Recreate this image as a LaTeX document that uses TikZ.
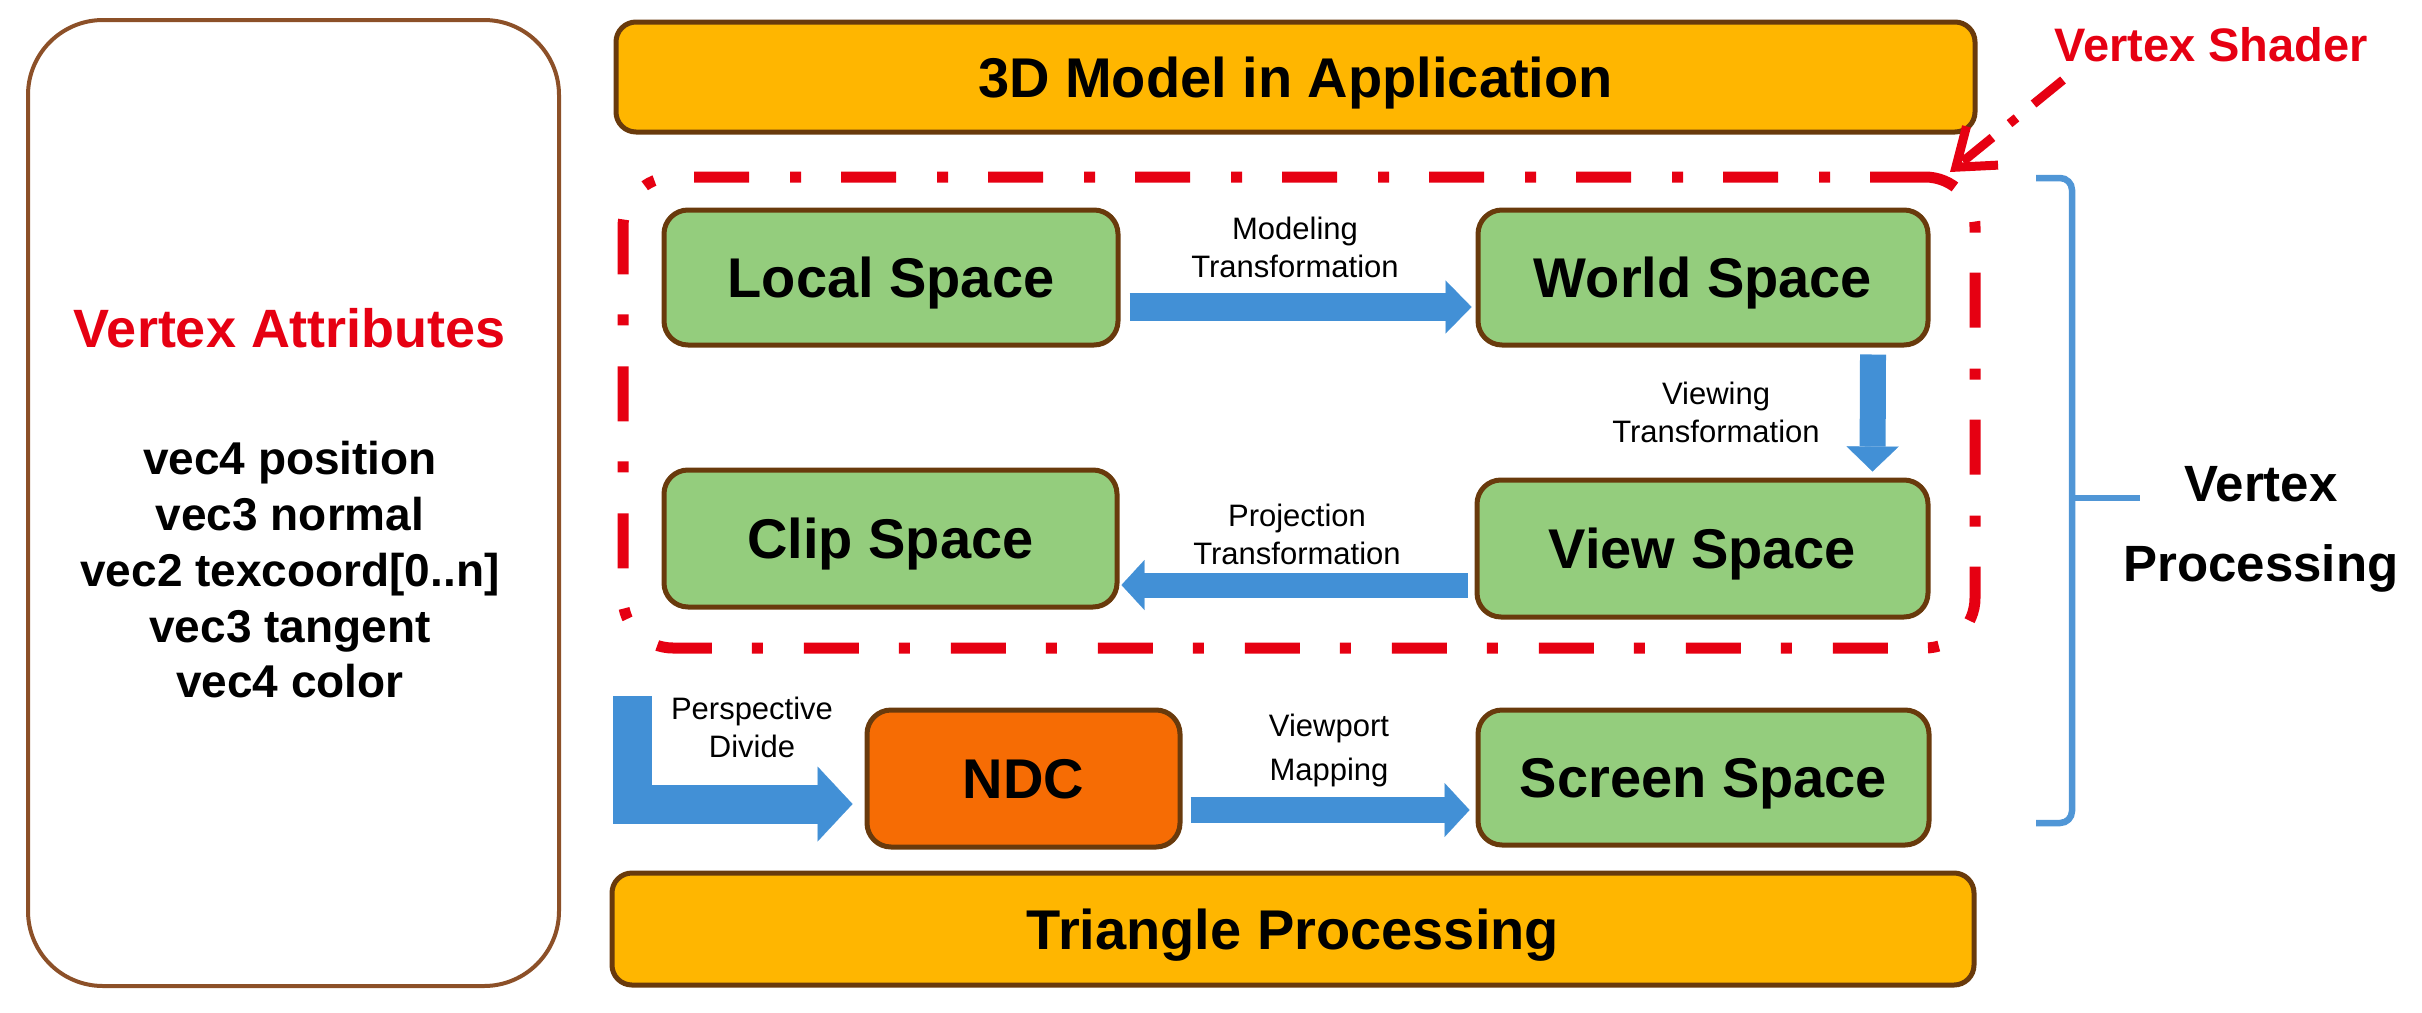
\documentclass[tikz,border=0pt]{standalone}
\usepackage{fontspec}
\setmainfont{Liberation Sans}
\usetikzlibrary{arrows.meta,calc}
\definecolor{boxorange}{RGB}{255,182,0}
\definecolor{boxgreen}{RGB}{148,205,125}
\definecolor{ndcorange}{RGB}{246,108,4}
\definecolor{edgebrown}{RGB}{105,58,12}
\definecolor{attrbrown}{RGB}{140,80,40}
\definecolor{arrowblue}{RGB}{66,144,214}
\definecolor{bracecol}{RGB}{80,150,214}
\definecolor{shaderred}{RGB}{230,0,18}
\begin{document}
\begin{tikzpicture}[x=1pt,y=-1pt,
  stage/.style={draw=edgebrown, line width=5pt, rounded corners=24pt, inner sep=0pt,
    font=\fontsize{56}{60}\selectfont\bfseries, text height=40pt, text depth=0pt},
  greenbox/.style={stage, fill=boxgreen},
  orangebar/.style={stage, fill=boxorange, rounded corners=20pt},
  ndcbox/.style={stage, fill=ndcorange},
  small/.style={font=\fontsize{31}{38}\selectfont, align=center, inner sep=0pt},
  fatarrow/.style={draw=arrowblue, line width=#1},
  redtitle/.style={text=shaderred, inner sep=0pt, font=\fontsize{47}{50}\selectfont\bfseries}
]
\useasboundingbox (0,0) rectangle (2422,1012);

% left attribute panel
\node[draw=attrbrown, line width=4pt, rounded corners=75pt, minimum width=531pt, minimum height=966pt, inner sep=0pt] (attr) at (293.5,503) {};
\node[text=shaderred, inner sep=0pt, font=\fontsize{54}{56}\selectfont\bfseries] (attrtitle) at (290,328) {Vertex Attributes};
\node[inner sep=0pt, align=center, font=\fontsize{46}{55.75}\selectfont\bfseries] (attrlist) at (290,570)
  {vec4 position\\vec3 normal\\vec2 texcoord[0..n]\\vec3 tangent\\vec4 color};

% bars
\node[orangebar, minimum width=1359pt, minimum height=110pt] (app) at (1295.5,77) {3D Model in Application};
\node[orangebar, minimum width=1362pt, minimum height=112pt] (tri) at (1293,929) {Triangle Processing};

% vertex shader region
\node[draw=shaderred, line width=11pt, dash pattern=on 55pt off 40pt on 11pt off 41pt,
  rounded corners=50pt, minimum width=1352pt, minimum height=471pt, inner sep=0pt] (shader) at (1299,412.5) {};

% stages
\node[greenbox, minimum width=454pt, minimum height=135pt] (local) at (891,277.5) {Local Space};
\node[greenbox, minimum width=450pt, minimum height=135pt] (world) at (1703,277.5) {World Space};
\node[greenbox, minimum width=453pt, minimum height=137pt] (clip) at (890.5,538.5) {Clip Space};
\node[greenbox, minimum width=451pt, minimum height=137pt] (view) at (1702.5,548.5) {View Space};
\node[ndcbox, minimum width=313pt, minimum height=137pt] (ndc) at (1023.5,778.5) {NDC};
\node[greenbox, minimum width=451pt, minimum height=135pt] (screen) at (1703.5,777.5) {Screen Space};

% transformation arrows
\draw[fatarrow=28pt, -{Triangle[length=26pt,width=53pt,line width=0.1pt]}]
  ([shift={(9,29.5)}]local.east) -- ([shift={(-4,29.5)}]world.west);
\draw[fatarrow=26pt, -{Triangle[length=25pt,width=52pt,line width=0.1pt]}]
  ([shift={(170,7)}]world.south) -- ([shift={(170,-6)}]view.north);
\draw[fatarrow=25pt, -{Triangle[length=23pt,width=50pt,line width=0.1pt]}]
  ([shift={(-7,36.5)}]view.west) -- ([shift={(2,46.5)}]clip.east);
\coordinate (pdstart) at (632,696);
\draw[fatarrow=39pt, line join=miter, -{Triangle[length=35pt,width=75pt,line width=0.1pt]}]
  (pdstart) |- ([shift={(-12,25.5)}]ndc.west);
\draw[fatarrow=26pt, -{Triangle[length=25pt,width=54pt,line width=0.1pt]}]
  ([shift={(8,31.5)}]ndc.east) -- ([shift={(-6,32.5)}]screen.west);

% arrow labels
\node[small] (lmod) at (1295,247) {Modeling\\Transformation};
\node[small] (lview) at (1716,412) {Viewing\\Transformation};
\node[small] (lproj) at (1297,534) {Projection\\Transformation};
\node[small] (lpers) at (752,727) {Perspective\\Divide};
\node[small, font=\fontsize{31}{44}\selectfont] (lport) at (1329,750) {Viewport\\Mapping};

% vertex shader label and pointer
\node[redtitle] (vsl) at (2211,45) {Vertex Shader};
\coordinate (vsstart) at (2063,80);
\coordinate (vstip) at (1950,172);
\draw[shaderred, line width=9pt, dash pattern=on 38pt off 22pt on 9pt off 22pt,
  -{Straight Barb[length=34pt,width=50pt,line width=9pt]}] (vsstart) -- (vstip);

% brace and vertex processing label
\draw[bracecol, line width=6.5pt, rounded corners=12pt]
  (2036,178) -- (2072,178) -- (2072,823) -- (2036,823);
\draw[bracecol, line width=6.5pt] (2072,498) -- (2140,498);
\node[inner sep=0pt, align=center, font=\fontsize{51}{80}\selectfont\bfseries] (vp) at (2261,529) {Vertex\\Processing};
\end{tikzpicture}
\end{document}
